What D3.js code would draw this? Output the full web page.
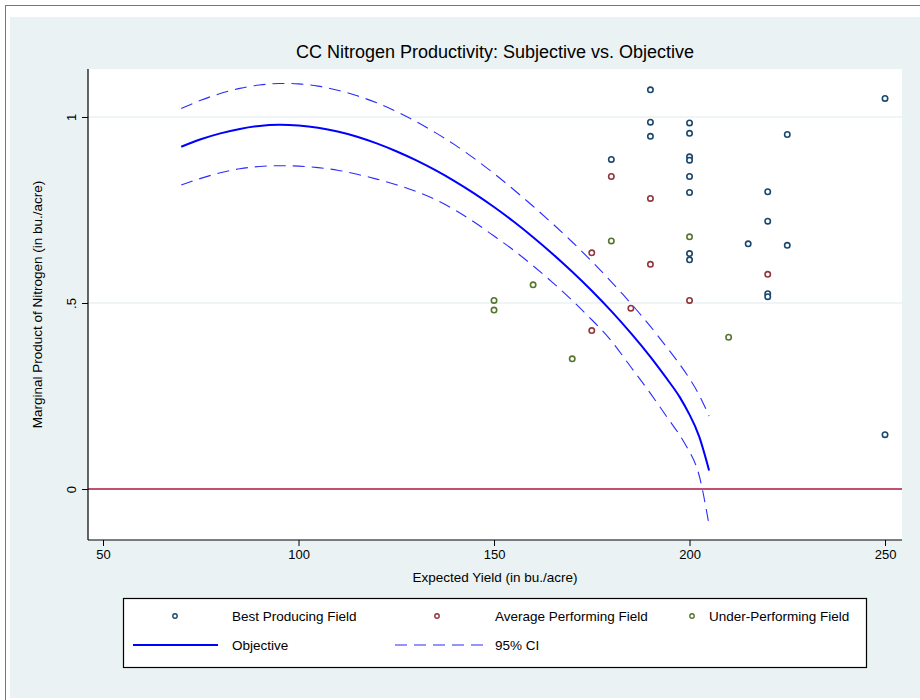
<!DOCTYPE html>
<html>
<head>
<meta charset="utf-8">
<script src="https://cdn.jsdelivr.net/npm/d3@7"></script>
<style>
  body { margin:0; background:#fff; }
  svg text { font-family:"Liberation Sans", Arial, Helvetica, sans-serif; fill:#000; }
</style>
</head>
<body>
<div id="chart"></div>
<script>

// fitted curve (objective) and its 95% CI
var fitX  = [70, 75, 80, 85, 90, 95, 100, 105, 110, 115, 120, 125, 130, 135, 140, 145, 150, 155, 160, 165, 170, 175, 180, 185, 190, 195, 197.5, 200, 202.5, 205];
var fitY  = [0.920, 0.940, 0.956, 0.968, 0.976, 0.979, 0.977, 0.971, 0.961, 0.947, 0.929, 0.908, 0.884, 0.857, 0.827, 0.794, 0.758, 0.719, 0.677, 0.632, 0.584, 0.533, 0.478, 0.419, 0.355, 0.285, 0.247, 0.200, 0.140, 0.050];
var ciHi  = [1.023, 1.045, 1.063, 1.077, 1.086, 1.090, 1.089, 1.083, 1.072, 1.057, 1.038, 1.015, 0.988, 0.958, 0.925, 0.888, 0.848, 0.805, 0.760, 0.713, 0.664, 0.612, 0.557, 0.499, 0.437, 0.370, 0.335, 0.297, 0.252, 0.196];
var ciLo  = [0.817, 0.835, 0.850, 0.861, 0.867, 0.869, 0.868, 0.864, 0.857, 0.846, 0.833, 0.818, 0.800, 0.778, 0.750, 0.717, 0.680, 0.642, 0.600, 0.555, 0.507, 0.455, 0.398, 0.328, 0.257, 0.182, 0.145, 0.100, 0.035, -0.097];

// subjective answers by field type
var bestX  = [190, 250, 190, 200, 190, 200, 225, 180, 200, 200, 200, 200, 220, 220, 215, 225, 200, 200, 220, 220, 250];
var bestY  = [1.073, 1.050, 0.986, 0.984, 0.948, 0.956, 0.953, 0.886, 0.893, 0.884, 0.840, 0.797, 0.799, 0.720, 0.659, 0.655, 0.633, 0.616, 0.525, 0.517, 0.146];
var avgX   = [180, 190, 190, 175, 175, 185, 200, 220];
var avgY   = [0.840, 0.781, 0.604, 0.635, 0.426, 0.486, 0.507, 0.577];
var underX = [180, 200, 150, 150, 160, 170, 210];
var underY = [0.667, 0.678, 0.507, 0.481, 0.549, 0.350, 0.408];

var xTicks = [50, 100, 150, 200, 250];
var yTicks = [0, 0.5, 1];
var yTickLabels = ["0", ".5", "1"];

var W = 920, H = 700;
var plot = {left:88, right:902, top:69, bottom:540};
var font = "Liberation Sans, Arial, sans-serif";

var svg = d3.select("#chart").append("svg")
  .attr("width", W)
  .attr("height", H);

// graph region
svg.append("rect")
  .attr("x", 5.5).attr("y", 5.5)
  .attr("width", W).attr("height", H)
  .style("fill", "#fff")
  .style("stroke", "#777");

svg.append("rect")
  .attr("x", 10).attr("y", 17)
  .attr("width", W - 10).attr("height", 681)
  .style("fill", "#eaf2f3");

svg.append("rect")
  .attr("x", plot.left).attr("y", plot.top)
  .attr("width", plot.right - plot.left).attr("height", plot.bottom - plot.top)
  .style("fill", "#fff");

var x = d3.scaleLinear().domain([46.16, 254.34]).range([plot.left, plot.right]);
var y = d3.scaleLinear().domain([-0.137, 1.129]).range([plot.bottom, plot.top]);

// grid lines
svg.append("g").selectAll("line")
  .data([0.5, 1])
  .enter().append("line")
  .attr("x1", plot.left).attr("x2", plot.right)
  .attr("y1", function(d){ return y(d); })
  .attr("y2", function(d){ return y(d); })
  .style("stroke", "#eaf2f3")
  .style("stroke-width", 1.5);

// zero reference line
svg.append("line")
  .attr("x1", plot.left).attr("x2", plot.right)
  .attr("y1", y(0)).attr("y2", y(0))
  .style("stroke", "#a8193d")
  .style("stroke-width", 1.5);

// axes
var xAxis = d3.axisBottom(x).tickValues(xTicks).tickSize(6).tickPadding(4);
var yAxis = d3.axisLeft(y).tickValues(yTicks).tickSize(6).tickPadding(6)
  .tickFormat(function(d, i){ return yTickLabels[i]; });

var gx = svg.append("g")
  .attr("transform", "translate(0," + plot.bottom + ")")
  .call(xAxis);
gx.select(".domain").remove();
gx.selectAll("text").style("font-size", "13px").style("font-family", font);

var gy = svg.append("g")
  .attr("transform", "translate(" + plot.left + ",0)")
  .call(yAxis);
gy.select(".domain").remove();
gy.selectAll("text")
  .style("font-size", "13px")
  .style("font-family", font)
  .attr("text-anchor", "middle")
  .attr("dy", null)
  .attr("transform", "translate(-16,0) rotate(-90)")
  .attr("x", 0)
  .attr("y", 4);

svg.append("line")
  .attr("x1", plot.left).attr("x2", plot.right)
  .attr("y1", plot.bottom).attr("y2", plot.bottom)
  .style("stroke", "#000").style("stroke-width", 1.2);
svg.append("line")
  .attr("x1", plot.left).attr("x2", plot.left)
  .attr("y1", plot.top).attr("y2", plot.bottom)
  .style("stroke", "#000").style("stroke-width", 1.2);

// curves
var fitData = fitX.map(function(d, i){ return {x:d, fit:fitY[i], hi:ciHi[i], lo:ciLo[i]}; });

var lineOf = function(key){
  return d3.line()
    .x(function(d){ return x(d.x); })
    .y(function(d){ return y(d[key]); })
    .curve(d3.curveNatural);
};

svg.append("path")
  .datum(fitData)
  .attr("d", lineOf("hi"))
  .style("fill", "none").style("stroke", "#2b2bff").style("stroke-width", 1.1)
  .style("stroke-dasharray", "12,7");

svg.append("path")
  .datum(fitData)
  .attr("d", lineOf("lo"))
  .style("fill", "none").style("stroke", "#2b2bff").style("stroke-width", 1.1)
  .style("stroke-dasharray", "12,7");

svg.append("path")
  .datum(fitData)
  .attr("d", lineOf("fit"))
  .style("fill", "none").style("stroke", "#0000ff").style("stroke-width", 2);

// scatter groups
var groups = [
  {xs:bestX,  ys:bestY,  color:"#1a476f"},
  {xs:avgX,   ys:avgY,   color:"#90353b"},
  {xs:underX, ys:underY, color:"#55752f"}
];

groups.forEach(function(g){
  svg.append("g").selectAll("circle")
    .data(g.xs)
    .enter().append("circle")
    .attr("cx", function(d){ return x(d); })
    .attr("cy", function(d, i){ return y(g.ys[i]); })
    .attr("r", 2.7)
    .style("fill", "#fff")
    .style("stroke", g.color)
    .style("stroke-width", 1.6);
});

// title
svg.append("text")
  .attr("x", (plot.left + plot.right) / 2)
  .attr("y", 58)
  .attr("text-anchor", "middle")
  .style("font-size", "18px")
  .text("CC Nitrogen Productivity: Subjective vs. Objective");

// axis titles
svg.append("text")
  .attr("x", (plot.left + plot.right) / 2)
  .attr("y", 582)
  .attr("text-anchor", "middle")
  .style("font-size", "13.5px")
  .text("Expected Yield (in bu./acre)");

svg.append("text")
  .attr("transform", "translate(42," + ((plot.top + plot.bottom) / 2) + ") rotate(-90)")
  .attr("text-anchor", "middle")
  .style("font-size", "13.5px")
  .text("Marginal Product of Nitrogen (in bu./acre)");

// legend
var legend = svg.append("g");
legend.append("rect")
  .attr("x", 123.5).attr("y", 598.5)
  .attr("width", 743).attr("height", 69)
  .style("fill", "#fff")
  .style("stroke", "#000")
  .style("stroke-width", 1.2);

var legendMarkers = [
  {cx:175, tx:232, label:"Best Producing Field",     color:"#1a476f"},
  {cx:437, tx:495, label:"Average Performing Field", color:"#90353b"},
  {cx:692, tx:709, label:"Under-Performing Field",   color:"#55752f"}
];

legendMarkers.forEach(function(m){
  legend.append("circle")
    .attr("cx", m.cx).attr("cy", 616)
    .attr("r", 2.2)
    .style("fill", "#fff")
    .style("stroke", m.color)
    .style("stroke-width", 1.4);
  legend.append("text")
    .attr("x", m.tx).attr("y", 621)
    .style("font-size", "13.5px")
    .text(m.label);
});

legend.append("line")
  .attr("x1", 133).attr("x2", 218).attr("y1", 645).attr("y2", 645)
  .style("stroke", "#0000ff").style("stroke-width", 2);
legend.append("text")
  .attr("x", 232).attr("y", 650)
  .style("font-size", "13.5px")
  .text("Objective");

legend.append("line")
  .attr("x1", 395).attr("x2", 483).attr("y1", 645).attr("y2", 645)
  .style("stroke", "#2b2bff").style("stroke-width", 1.1)
  .style("stroke-dasharray", "12,7");
legend.append("text")
  .attr("x", 495).attr("y", 650)
  .style("font-size", "13.5px")
  .text("95% CI");

</script>
</body>
</html>
